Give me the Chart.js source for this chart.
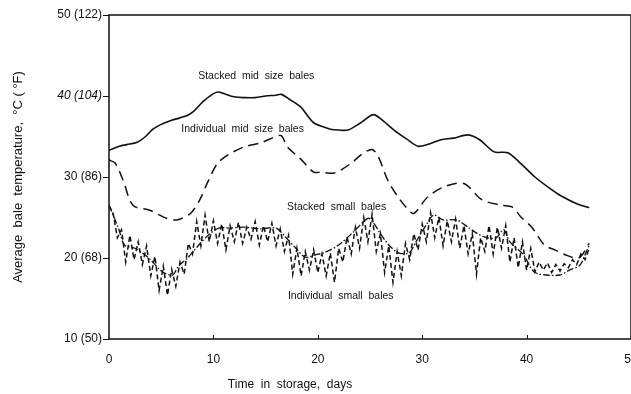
<!DOCTYPE html>
<html>
<head>
<meta charset="utf-8">
<script src="https://cdn.jsdelivr.net/npm/chart.js@4"></script>
<style>
  html, body { margin: 0; padding: 0; background: #fff; }
  #wrap { width: 631px; height: 394px; }
</style>
</head>
<body>
<div id="wrap"><canvas id="baleChart"></canvas></div>
<script>
// bale temperature vs days in storage

var yTickLabels = ['10 (50)', '20 (68)', '30 (86)', '40 (104)', '50 (122)'];

// Stacked mid size bales (solid)
var stackedMidDays = [0, 1, 1.7, 2.7, 3.5, 4.2, 5, 6, 6.8, 7.5, 8.1, 9, 10, 10.5, 11, 12, 13, 14, 15, 16, 16.5, 17.4, 18.4, 19, 19.6, 20.5, 21.2, 22, 22.9, 24, 25.3, 26, 27.3, 28.5, 29.6, 30.5, 31.8, 33, 34.4, 35.5, 36.9, 38.2, 39.5, 40.8, 42, 43, 44, 45, 46];
var stackedMidTemp = [33.3, 33.8, 34.0, 34.3, 35.0, 35.9, 36.5, 37.0, 37.3, 37.6, 38.1, 39.3, 40.3, 40.5, 40.3, 39.9, 39.8, 39.8, 40.0, 40.1, 40.2, 39.5, 38.6, 37.6, 36.7, 36.2, 35.9, 35.8, 35.8, 36.6, 37.7, 37.2, 35.8, 34.7, 33.8, 34.0, 34.6, 34.8, 35.2, 34.6, 33.1, 33.0, 31.6, 30.0, 28.8, 27.9, 27.2, 26.6, 26.2];

// Individual mid size bales (long dashes)
var indivMidDays = [0, 0.6, 1.35, 2.3, 3.9, 5.5, 6.5, 7.8, 8.7, 9.5, 10.4, 11.5, 12.9, 14.5, 15.8, 16.5, 17.1, 18.3, 19.6, 20.3, 21.6, 23.2, 24.2, 25.2, 25.8, 26.7, 27.7, 28.5, 29.2, 30.5, 32.1, 34, 35.7, 37.6, 38.6, 39.5, 40.5, 41.7, 42.7, 43.7, 45, 46];
var indivMidTemp = [32.1, 31.7, 29.6, 26.5, 25.9, 24.9, 24.7, 25.5, 27.2, 29.5, 31.7, 32.8, 33.7, 34.2, 34.9, 35.1, 33.7, 32.3, 30.6, 30.6, 30.5, 31.7, 32.8, 33.4, 32.5, 29.6, 27.5, 26.2, 25.5, 27.5, 28.8, 29.2, 27.2, 26.5, 26.3, 25.0, 23.8, 21.6, 21.0, 20.4, 20.0, 21.8];

// Stacked small bales (dash-dot)
var stackedSmallDays = [0, 0.9, 1.5, 2.5, 3.8, 5.1, 6.1, 6.6, 7.6, 8.6, 9.5, 10.5, 11.5, 13, 14.5, 16, 16.9, 17.9, 18.8, 19.8, 20.7, 22, 23.4, 24.8, 25.3, 25.9, 26.8, 27.8, 28.8, 29.4, 30.4, 31.1, 32, 33.3, 34.5, 35.3, 36.2, 37.1, 37.8, 38.4, 39.7, 40.7, 41.9, 43.2, 44.1, 45.1, 45.6, 46];
var stackedSmallTemp = [26.5, 23.7, 21.6, 21.2, 20.0, 18.3, 17.9, 18.9, 20.1, 21.6, 22.8, 23.7, 23.7, 23.8, 23.6, 23.7, 22.6, 21.2, 20.1, 20.4, 20.7, 21.6, 23.2, 24.9, 24.4, 23.2, 21.6, 20.6, 20.7, 22.0, 24.1, 25.3, 24.7, 24.7, 23.7, 23.0, 22.5, 22.5, 23.5, 22.0, 20.4, 18.3, 17.9, 17.9, 18.5, 19.1, 20.4, 21.6];

// Individual small bales (short dashes, very noisy)
var indivSmallDays = [0, 0.4, 0.8, 1.2, 1.6, 2.0, 2.4, 2.8, 3.2, 3.6, 4.0, 4.4, 4.8, 5.2, 5.6, 6.0, 6.4, 6.8, 7.2, 7.6, 8.0, 8.4, 8.8, 9.2, 9.6, 10.0, 10.4, 10.8, 11.2, 11.6, 12.0, 12.4, 12.8, 13.2, 13.6, 14.0, 14.4, 14.8, 15.2, 15.6, 16.0, 16.4, 16.8, 17.2, 17.6, 18.0, 18.4, 18.8, 19.2, 19.6, 20.0, 20.4, 20.8, 21.2, 21.6, 22.0, 22.4, 22.8, 23.2, 23.6, 24.0, 24.4, 24.8, 25.2, 25.6, 26.0, 26.4, 26.8, 27.2, 27.6, 28.0, 28.4, 28.8, 29.2, 29.6, 30.0, 30.4, 30.8, 31.2, 31.6, 32.0, 32.4, 32.8, 33.2, 33.6, 34.0, 34.4, 34.8, 35.2, 35.6, 36.0, 36.4, 36.8, 37.2, 37.6, 38.0, 38.4, 38.8, 39.2, 39.6, 40.0, 40.4, 40.8, 41.2, 41.6, 42.0, 42.4, 42.8, 43.2, 43.6, 44.0, 44.4, 44.8, 45.2, 45.6, 46.0];
var indivSmallTemp = [26.5, 25.5, 22.5, 23.5, 19.5, 22.8, 19.8, 22.0, 19.2, 21.5, 17.8, 20.2, 16.0, 19.0, 15.4, 18.6, 16.5, 19.5, 18.0, 21.8, 20.5, 24.5, 21.5, 25.3, 22.0, 24.6, 21.8, 24.2, 21.0, 24.0, 22.0, 24.4, 21.8, 23.8, 22.3, 24.5, 21.6, 24.0, 22.0, 24.3, 21.5, 23.6, 20.8, 22.8, 18.0, 21.2, 17.8, 20.8, 18.5, 21.0, 18.2, 20.5, 17.8, 20.6, 17.0, 21.2, 19.5, 22.6, 20.5, 23.8, 21.2, 25.0, 22.0, 25.4, 20.8, 23.0, 18.2, 21.5, 17.0, 20.8, 17.8, 21.8, 19.8, 23.0, 21.0, 24.2, 22.0, 25.6, 22.5, 25.0, 21.5, 24.6, 22.0, 24.8, 21.2, 24.0, 20.5, 23.0, 18.0, 22.5, 20.8, 24.0, 20.5, 23.8, 21.2, 24.0, 19.5, 22.5, 18.8, 22.0, 18.5, 21.2, 18.3, 19.5, 18.5, 19.4, 18.2, 19.2, 18.4, 19.3, 18.8, 19.8, 19.2, 20.5, 19.8, 21.2];

// curve labels, placed in data units
var noteText = ['Stacked  mid  size  bales', 'Individual  mid  size  bales', 'Stacked  small  bales', 'Individual  small  bales'];
var noteDay = [14.1, 12.8, 21.8, 22.2];
var noteTemp = [42.5, 35.9, 26.3, 15.3];

var FONT = "'Liberation Sans', Arial, Helvetica, sans-serif";
var INK = '#111111';

function pairs(days, temps) {
  var out = [];
  for (var i = 0; i < days.length; i++) out.push({ x: days[i], y: temps[i] });
  return out;
}

// box, inward x ticks, curve labels and x title
var decorations = {
  id: 'decorations',
  afterDatasetsDraw: function(chart) {
    var ctx = chart.ctx, a = chart.chartArea;
    var xs = chart.scales.x, ys = chart.scales.y;
    ctx.save();
    ctx.strokeStyle = INK;
    ctx.lineWidth = 1.5;
    ctx.strokeRect(a.left, a.top, a.right - a.left, a.bottom - a.top);

    ctx.lineWidth = 1;
    [10, 20, 30, 40].forEach(function(d) {
      var px = Math.round(xs.getPixelForValue(d)) + 0.5;
      ctx.beginPath();
      ctx.moveTo(px, a.bottom);
      ctx.lineTo(px, a.bottom - 4);
      ctx.stroke();
    });

    ctx.fillStyle = INK;
    ctx.font = '10.5px ' + FONT;
    ctx.textAlign = 'center';
    ctx.textBaseline = 'middle';
    for (var i = 0; i < noteText.length; i++) {
      ctx.fillText(noteText[i], xs.getPixelForValue(noteDay[i]), ys.getPixelForValue(noteTemp[i]));
    }

    ctx.font = '12px ' + FONT;
    ctx.fillText('Time  in  storage,  days', 290, 385);
    ctx.restore();
  }
};

var chartEl = document.getElementById('baleChart');
var baleChart = new Chart(chartEl, {
  type: 'line',
  data: {
    datasets: [{
      label: 'Stacked mid size bales',
      data: pairs(stackedMidDays, stackedMidTemp),
      borderColor: INK,
      borderWidth: 1.6,
      tension: 0.3
    }, {
      label: 'Individual mid size bales',
      data: pairs(indivMidDays, indivMidTemp),
      borderColor: INK,
      borderWidth: 1.5,
      borderDash: [10, 6],
      tension: 0.3
    }, {
      label: 'Stacked small bales',
      data: pairs(stackedSmallDays, stackedSmallTemp),
      borderColor: INK,
      borderWidth: 1.3,
      borderDash: [7, 2, 1.5, 2],
      tension: 0.3
    }, {
      label: 'Individual small bales',
      data: pairs(indivSmallDays, indivSmallTemp),
      borderColor: INK,
      borderWidth: 1.5,
      borderDash: [5, 3],
      tension: 0
    }]
  },
  options: {
    responsive: true,
    maintainAspectRatio: false,
    animation: false,
    layout: { padding: { top: 15, right: 0, bottom: 0, left: 0 } },
    elements: { point: { radius: 0 } },
    plugins: {
      legend: { display: false },
      tooltip: { enabled: false }
    },
    scales: {
      x: {
        type: 'linear',
        min: 0,
        max: 50,
        ticks: {
          stepSize: 10,
          padding: 5,
          color: INK,
          font: { family: FONT, size: 12 }
        },
        grid: { display: false },
        border: { display: false },
        afterFit: function(scale) {
          scale.height = 55;
          scale.paddingRight = 0;
          scale.paddingLeft = 0;
        }
      },
      y: {
        min: 10,
        max: 50,
        ticks: {
          stepSize: 10,
          padding: 1,
          color: INK,
          font: function(c) {
            return { family: FONT, size: 12, style: c.tick && c.tick.value === 40 ? 'italic' : 'normal' };
          },
          callback: function(v) {
            return yTickLabels[(v - 10) / 10];
          }
        },
        grid: {
          drawOnChartArea: false,
          drawTicks: true,
          tickLength: 6,
          color: INK,
          lineWidth: 1
        },
        border: { display: false },
        title: {
          display: true,
          text: 'Average  bale  temperature,  \u00b0C ( \u00b0F)',
          color: INK,
          font: { family: FONT, size: 13 },
          padding: { top: 11, bottom: 0 }
        },
        afterFit: function(scale) {
          scale.width = 109;
          scale.paddingTop = 0;
          scale.paddingBottom = 0;
        }
      }
    }
  },
  plugins: [decorations]
});
</script>
</body>
</html>
